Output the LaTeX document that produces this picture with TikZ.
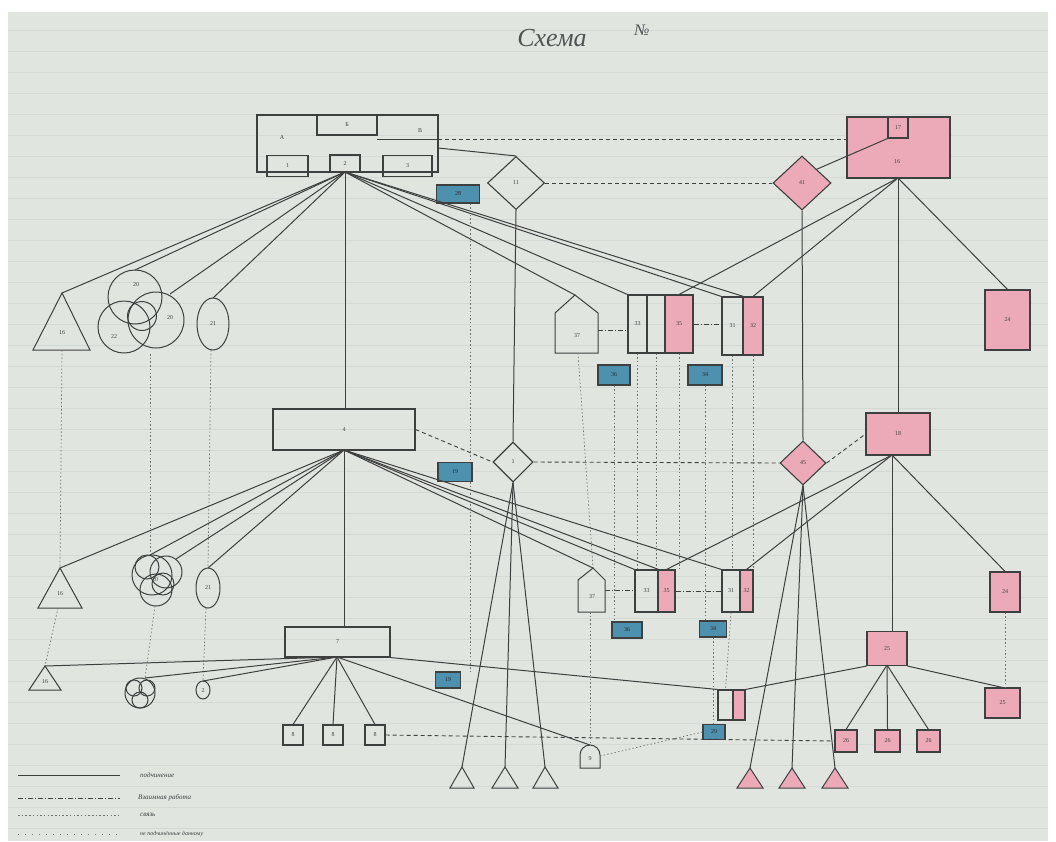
\documentclass[tikz,border=0pt]{standalone}
\usepackage{fontspec}
\setmainfont{Liberation Serif}
\usetikzlibrary{shapes.geometric}
\definecolor{paper}{RGB}{225,229,224}
\definecolor{ink}{RGB}{62,64,64}
\definecolor{pinkf}{RGB}{236,170,184}
\definecolor{bluef}{RGB}{78,145,175}
\definecolor{rulec}{RGB}{211,217,213}
\begin{document}
\begin{tikzpicture}[x=1pt,y=-1pt,
 ln/.style={draw=ink,line width=1pt},
 dl/.style={draw=ink,line width=0.9pt,dash pattern=on 4pt off 3pt},
 dda/.style={draw=ink,line width=0.8pt,dash pattern=on 5pt off 2pt on 1pt off 2pt},
 dd/.style={draw=ink!75,line width=0.7pt,dash pattern=on 1.5pt off 2.2pt},
 bx/.style={draw=ink,line width=1.1pt,inner sep=0pt,font=\fontsize{6}{6}\selectfont,text=ink},
 pbx/.style={bx,fill=pinkf},
 bbx/.style={bx,fill=bluef,text=ink!60!black},
 dia/.style={bx,diamond},
 lab/.style={font=\fontsize{6}{6}\selectfont,text=ink,inner sep=0pt},
 legt/.style={font=\fontsize{7}{7}\selectfont\itshape,text=ink,inner sep=0pt,anchor=west}
]
% background
\fill[white] (0,0) rectangle (1056,841);
\fill[paper] (8,12) rectangle (1048,841);
\foreach \yy in {30,51,...,840} {\draw[rulec,line width=0.5pt] (8,\yy) -- (1048,\yy);}
\useasboundingbox (0,0) rectangle (1056,841);

% title
\node[font=\fontsize{26}{26}\selectfont\itshape,text=ink!90,inner sep=0pt] (title) at (552,38) {Схема};
\node[font=\fontsize{16}{16}\selectfont\itshape,text=ink!90,inner sep=0pt] (num) at (642,30) {№};

% ===== top row =====
\node[bx,minimum width=181pt,minimum height=57pt] (A) at (347.5,143.5) {};
\node[bx,minimum width=60pt,minimum height=20pt] (Ab) at (347,125) {Б};
\draw[ln] (377,139) -- (438,139);
\node[lab] at (282,138) {А};
\node[lab] at (420,131) {В};
\node[bx,minimum width=41pt,minimum height=21pt] (Al) at (287.5,166) {1};
\node[bx,minimum width=30pt,minimum height=17pt] (Am) at (345,163.5) {2};
\node[bx,minimum width=49pt,minimum height=21pt] (Ar) at (407.5,166) {3};
\coordinate (Af) at (345,172);

\node[dia,minimum width=57pt,minimum height=53pt] (D1) at (516,183) {11};
\node[bbx,minimum width=43pt,minimum height=18pt] (bT) at (458,194) {28};

\node[pbx,minimum width=103pt,minimum height=61pt] (P1) at (898.5,147.5) {};
\node[bx,minimum width=20pt,minimum height=21pt] (Pi) at (898,127.5) {17};
\node[lab] at (897,162) {16};
\coordinate (Pf) at (898,178);
\node[dia,fill=pinkf,minimum width=58pt,minimum height=54pt] (PD1) at (802,183) {41};

\draw[dl] (438,139) -- (P1.west |- 0,139);
\draw[dl] (D1.east) -- (PD1.west);
\draw[ln] (438,148) -- (D1.north);
\draw[ln] (PD1.north east) -- (Pi.south west);

% row 1 left shapes
\coordinate (T1) at (62,293);
\draw[ln] (T1) -- (33,350) -- (90,350) -- cycle;
\node[lab] at (62,333) {16};
\draw[ln] (135,297) circle (27);
\draw[ln] (124,327) circle (26);
\draw[ln] (156,320) circle (28);
\draw[ln] (142,316) circle (14.5);
\node[lab] at (136,285) {20};
\node[lab] at (114,337) {22};
\node[lab] at (170,318) {20};
\coordinate (C1t) at (135,270);
\coordinate (C3t) at (170,294);
\draw[ln] (213,324) ellipse (16 and 26);
\node[lab] at (213,324) {21};
\coordinate (E1t) at (213,298);

% row 1 right group
\coordinate (H1) at (575,295);
\draw[ln] (H1) -- (598,313) -- (598,353) -- (555,353) -- (555,313) -- cycle;
\node[lab] at (577,336) {37};
\node[bx,minimum width=19pt,minimum height=58pt] (g1a) at (637.5,324) {33};
\node[bx,minimum width=18pt,minimum height=58pt] (g1b) at (656,324) {};
\node[pbx,minimum width=28pt,minimum height=58pt] (g1c) at (679,324) {35};
\node[bx,minimum width=21pt,minimum height=58pt] (g2a) at (732.5,326) {31};
\node[pbx,minimum width=20pt,minimum height=58pt] (g2b) at (753,326) {32};
\node[bbx,minimum width=32pt,minimum height=20pt] (b1) at (614,375) {36};
\node[bbx,minimum width=34pt,minimum height=20pt] (b2) at (705,375) {34};
\node[pbx,minimum width=45pt,minimum height=60pt] (R1) at (1007.5,320) {24};
\draw[dda] (598,330) -- (g1a.west |- 0,330);
\draw[dda] (g1c.east) -- (g2a.west |- g1c.east);

% fans top
\draw[ln] (Af) -- (T1);
\draw[ln] (Af) -- (C1t);
\draw[ln] (Af) -- (C3t);
\draw[ln] (Af) -- (E1t);
\draw[ln] (Af) -- (H1);
\draw[ln] (Af) -- (g1a.north west);
\draw[ln] (Af) -- (g2a.north west);
\draw[ln] (Af) -- (g2a.north east);
\draw[ln] (Pf) -- (g1c.north);
\draw[ln] (Pf) -- (g2b.north);
\draw[ln] (Pf) -- (R1.north);

% ===== row 2 =====
\node[bx,minimum width=142pt,minimum height=41pt] (M) at (344,429.5) {4};
\node[dia,minimum width=40pt,minimum height=40pt] (D2) at (513,462) {1};
\node[bbx,minimum width=34pt,minimum height=19pt] (bM) at (455,472) {19};
\node[dia,fill=pinkf,minimum width=46pt,minimum height=44pt] (PD2) at (803,463) {45};
\node[pbx,minimum width=64pt,minimum height=42pt] (P2) at (898,434) {18};
\node[pbx,minimum width=30pt,minimum height=40pt] (R2) at (1005,592) {24};

\draw[ln] (Af) -- (M.north -| Af);
\draw[ln] (D1.south) -- (D2.north);
\draw[ln] (PD1.south) -- (PD2.north);
\draw[ln] (Pf) -- (P2.north -| Pf);
\draw[dl] (M.east) -- (D2.west);
\draw[dl] (D2.east) -- (PD2.west);
\draw[dl] (PD2.east) -- (P2.west);
\draw[dd] (bT.south -| 470,0) -- (470,463);

\coordinate (T2) at (60,568);
\draw[ln] (T2) -- (38,608) -- (82,608) -- cycle;
\node[lab] at (60,594) {16};
\draw[ln] (152,575) circle (20);
\draw[ln] (166,572) circle (16);
\draw[ln] (156,590) circle (16);
\draw[ln] (163,584) circle (11);
\draw[ln] (147,567) circle (12);
\node[lab] at (155,580) {20};
\coordinate (C2t) at (150,555);
\coordinate (C2r) at (176,559);
\draw[ln] (208,588) ellipse (12 and 20);
\node[lab] at (208,588) {21};
\coordinate (E2t) at (208,568);

\coordinate (H2) at (593,568);
\draw[ln] (H2) -- (605,580) -- (605,612) -- (578,612) -- (578,580) -- cycle;
\node[lab] at (592,597) {37};
\node[bx,minimum width=23pt,minimum height=42pt] (g3a) at (646.5,591) {33};
\node[pbx,minimum width=17pt,minimum height=42pt] (g3b) at (666.5,591) {35};
\node[bx,minimum width=18pt,minimum height=42pt] (g4a) at (731,591) {31};
\node[pbx,minimum width=13pt,minimum height=42pt] (g4b) at (746.5,591) {32};
\node[bbx,minimum width=30pt,minimum height=16pt] (b3) at (627,630) {36};
\node[bbx,minimum width=27pt,minimum height=16pt] (b4) at (713,629) {34};
\draw[dda] (605,590) -- (g3a.west |- 0,590);
\draw[dda] (g3b.east) -- (g4a.west);

% verticals row1 -> row2
\draw[dd] (150,354) -- (C2t);
\draw[dd] (62,350) -- (T2);
\draw[dd] (211,350) -- (E2t);
\draw[dd] (578,353) -- (H2);
\draw[dd] (b1.south) -- (b3.north -| b1.south);
\draw[dd] (g1a.south) -- (g3a.north -| g1a.south);
\draw[dd] (g1b.south) -- (g3a.north -| g1b.south);
\draw[dd] (g1c.south) -- (g3b.north -| g1c.south);
\draw[dd] (b2.south) -- (b4.north -| b2.south);
\draw[dd] (g2a.south) -- (g4a.north -| g2a.south);
\draw[dd] (g2b.south) -- (g4b.north -| g2b.south);

% fans row 2
\coordinate (Mf) at (344,450);
\draw[ln] (Mf) -- (T2);
\draw[ln] (Mf) -- (C2t);
\draw[ln] (Mf) -- (C2r);
\draw[ln] (Mf) -- (E2t);
\draw[ln] (Mf) -- (H2);
\draw[ln] (Mf) -- (g3a.north west);
\draw[ln] (Mf) -- (g3a.north east);
\draw[ln] (Mf) -- (g4a.north west);
\coordinate (P2f) at (892,455);
\draw[ln] (P2f) -- (g3b.north);
\draw[ln] (P2f) -- (g4b.north);
\draw[ln] (P2f) -- (R2.north);

% ===== row 3 =====
\node[bx,minimum width=105pt,minimum height=30pt] (B) at (337.5,642) {7};
\coordinate (Bf) at (337,657);
\draw[ln] (Mf) -- (B.north -| Mf);
\node[bx,minimum width=20pt,minimum height=20pt] (s1) at (293,735) {8};
\node[bx,minimum width=20pt,minimum height=20pt] (s2) at (333,735) {8};
\node[bx,minimum width=20pt,minimum height=20pt] (s3) at (375,735) {8};
\node[bbx,minimum width=25pt,minimum height=16pt] (bB) at (448,680) {19};
\draw[dd] (bM.south -| 470,0) -- (470,672);

\coordinate (T3) at (45,666);
\draw[ln] (T3) -- (29,690) -- (61,690) -- cycle;
\node[lab] at (45,682) {16};
\draw[ln] (140,693) circle (15);
\draw[ln] (134,688) circle (8);
\draw[ln] (147,688) circle (8);
\draw[ln] (140,700) circle (8);
\coordinate (C3top) at (145,678);
\draw[ln] (203,690) ellipse (7 and 9);
\node[lab] at (203,690) {2};
\coordinate (E3t) at (203,681);
\draw[dd] (58,608) -- (T3);
\draw[dd] (155,606) -- (C3top);
\draw[dd] (206,608) -- (E3t);

\coordinate (Ar3) at (590,745);
\draw[ln] (580,768) -- (580,755) arc[start angle=180,end angle=360,radius=10] -- (600,768) -- cycle;
\node[lab] at (590,759) {9};
\draw[dd] (590,612) -- (Ar3);

\node[bx,minimum width=15pt,minimum height=30pt] (g5a) at (725.5,705) {};
\node[pbx,minimum width=12pt,minimum height=30pt] (g5b) at (739,705) {};
\node[bbx,minimum width=22pt,minimum height=15pt] (b5) at (714,732) {29};
\draw[dd] (g4a.south) -- (g5a.north);
\draw[dd] (b4.south) -- (b5.north -| b4.south);

\node[pbx,minimum width=40pt,minimum height=34pt] (P3) at (887,648.5) {25};
\node[pbx,minimum width=35pt,minimum height=30pt] (R3) at (1002.5,703) {25};
\node[pbx,minimum width=22pt,minimum height=22pt] (ps1) at (846,741) {26};
\node[pbx,minimum width=25pt,minimum height=22pt] (ps2) at (887.5,741) {26};
\node[pbx,minimum width=23pt,minimum height=22pt] (ps3) at (928.5,741) {26};
\draw[ln] (P2f) -- (P3.north -| P2f);
\draw[dd] (R2.south) -- (R3.north -| R2.south);

% white triangles
\coordinate (w1) at (462,767);
\coordinate (w2) at (505,767);
\coordinate (w3) at (545,767);
\draw[ln] (w1) -- (450,788) -- (474,788) -- cycle;
\draw[ln] (w2) -- (492,788) -- (518,788) -- cycle;
\draw[ln] (w3) -- (533,788) -- (558,788) -- cycle;
% pink triangles
\coordinate (q1) at (750,768);
\coordinate (q2) at (792,768);
\coordinate (q3) at (835,768);
\draw[ln,fill=pinkf] (q1) -- (737,788) -- (763,788) -- cycle;
\draw[ln,fill=pinkf] (q2) -- (779,788) -- (805,788) -- cycle;
\draw[ln,fill=pinkf] (q3) -- (822,788) -- (848,788) -- cycle;

\draw[ln] (D2.south) -- (w1);
\draw[ln] (D2.south) -- (w2);
\draw[ln] (D2.south) -- (w3);
\draw[ln] (PD2.south) -- (q1);
\draw[ln] (PD2.south) -- (q2);
\draw[ln] (PD2.south) -- (q3);

% fans row 3
\draw[ln] (Bf) -- (s1.north);
\draw[ln] (Bf) -- (s2.north);
\draw[ln] (Bf) -- (s3.north);
\draw[ln] (Bf) -- (T3);
\draw[ln] (Bf) -- (C3top);
\draw[ln] (Bf) -- (E3t);
\draw[ln] (Bf) -- (Ar3);
\draw[ln] (B.south east) -- (g5a.north west);
\coordinate (P3f) at (887,665);
\draw[ln] (P3f) -- (ps1.north);
\draw[ln] (P3f) -- (ps2.north);
\draw[ln] (P3f) -- (ps3.north);
\draw[ln] (P3.south west) -- (g5b.north east);
\draw[ln] (P3.south east) -- (R3.north);
\draw[dl] (s3.east) -- (ps1.west);
\draw[dd] (600,756) -- (b5.west);

% legend
\coordinate (L1a) at (18,775); \coordinate (L1b) at (120,775);
\coordinate (L2a) at (18,798); \coordinate (L2b) at (120,798);
\coordinate (L3a) at (18,815); \coordinate (L3b) at (120,815);
\coordinate (L4a) at (18,834); \coordinate (L4b) at (120,834);
\draw[ln] (L1a) -- (L1b);
\draw[dda] (L2a) -- (L2b);
\draw[dd] (L3a) -- (L3b);
\draw[draw=ink!70,line width=0.6pt,dash pattern=on 1pt off 6pt] (L4a) -- (L4b);
\node[legt] (t1) at (140,775) {подчинение};
\node[legt] (t2) at (138,798) {Взаимная работа};
\node[legt] (t3) at (140,815) {связь};
\node[legt,font=\fontsize{6}{6}\selectfont\itshape] (t4) at (140,834) {не подчинённые данному};
\end{tikzpicture}
\end{document}
